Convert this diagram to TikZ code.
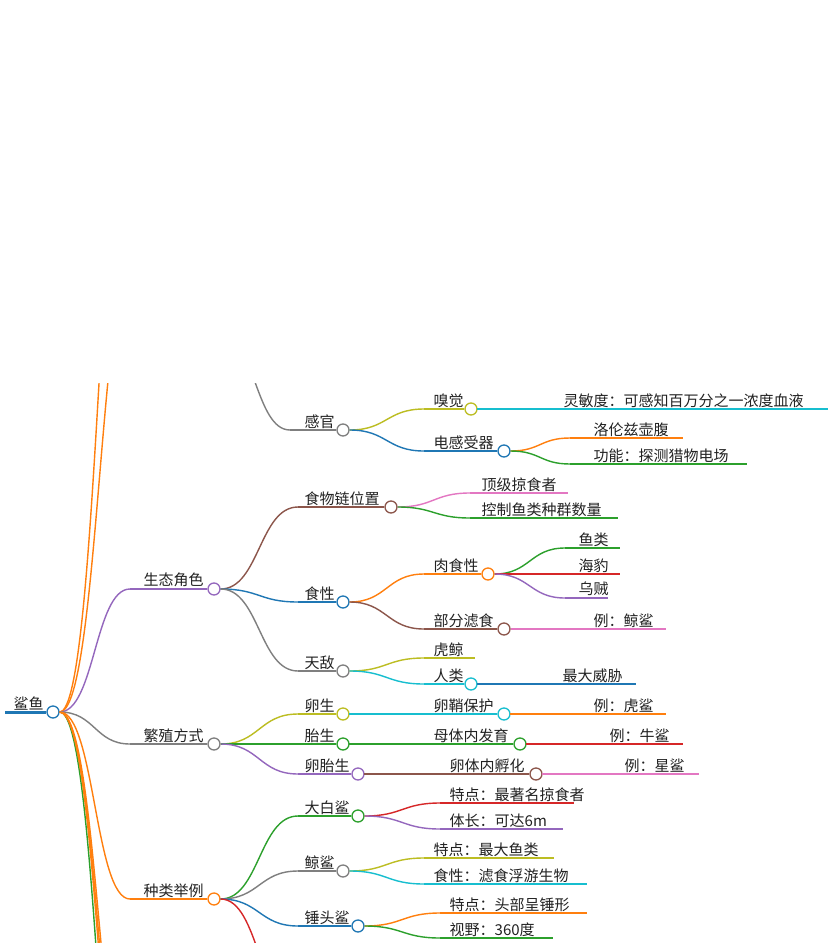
\documentclass[tikz,border=0pt]{standalone}
\usepackage{fontspec}
\setmainfont{Noto Sans CJK SC}
\usetikzlibrary{calc}
\definecolor{cpu}{HTML}{9467BD}\definecolor{cgr}{HTML}{7F7F7F}\definecolor{cor}{HTML}{FF7F0E}
\definecolor{cbl}{HTML}{1F77B4}\definecolor{cgn}{HTML}{2CA02C}\definecolor{crd}{HTML}{D62728}
\definecolor{cbr}{HTML}{8C564B}\definecolor{cpk}{HTML}{E377C2}\definecolor{col}{HTML}{BCBD22}
\definecolor{ccy}{HTML}{17BECF}\definecolor{ctx}{HTML}{222222}
\tikzset{edge/.style={line width=1.4pt},
 dot/.style={circle,draw,fill=white,inner sep=0pt,minimum size=12pt,line width=1.3pt},
 lbl/.style={anchor=south west,inner sep=1.5pt,text=ctx,font=\fontsize{15}{16}\selectfont}}
\newcommand\br[3]{\draw[edge,#1] let \p1=(#2),\p2=(#3) in (\p1) .. controls ({(\x1+\x2)/2},\y1) and ({(\x1+\x2)/2},\y2) .. (\p2);}
\newcommand\bn[7]{\coordinate (#1-s) at (#2,#4); \node[dot,draw=#5] (#1) at (#3,#4) {};
 \draw[edge,#5] (#1-s) -- (#1.west); \node[lbl] at (#7,#4) {#6};}
\newcommand\lf[7]{\coordinate (#1-s) at (#2,#4); \coordinate (#1-e) at (#3,#4);
 \draw[edge,#5] (#1-s) -- (#1-e); \node[lbl] at (#7,#4) {#6};}
\begin{document}
\begin{tikzpicture}[x=1pt,y=-1pt]
\useasboundingbox (0,0) rectangle (832,943);
\fill[white] (0,0) rectangle (832,943);
\clip (0,383) rectangle (832,943);
\coordinate (r-s) at (5,712);
\node[dot,draw=cbl] (r) at (53,712) {};
\draw[cbl,line width=3pt] (r-s) -- (r.west);
\node[lbl] at (12,712) {鲨鱼};
\coordinate (u1) at (140,27); \coordinate (u2) at (140,235);
\br{cor}{r.east}{u1} \br{cor}{r.east}{u2}
\coordinate (d1) at (140,1290); \coordinate (d2) at (140,1214);
\coordinate (d3) at (140,1183); \coordinate (d4) at (140,1148);
\br{cgn}{r.east}{d1} \br{cor}{r.east}{d2} \br{cor}{r.east}{d3} \br{cor}{r.east}{d4}
\node[dot,draw=cgr] (phys) at (214,336) {};
\bn{eco}{130}{214}{589}{cpu}{生态角色}{142} \br{cpu}{r.east}{eco-s}
\bn{rep}{130}{214}{744}{cgr}{繁殖方式}{142} \br{cgr}{r.east}{rep-s}
\bn{spe}{130}{214}{899}{cor}{种类举例}{142} \br{cor}{r.east}{spe-s}
\bn{sen}{290}{343}{430}{cgr}{感官}{303} \br{cgr}{phys.east}{sen-s}
\bn{sme}{424}{471}{409}{col}{嗅觉}{432} \br{col}{sen.east}{sme-s}
\bn{ele}{424}{504}{451}{cbl}{电感受器}{432} \br{cbl}{sen.east}{ele-s}
\lf{l1}{477}{828}{409}{ccy}{灵敏度：可感知百万分之一浓度血液}{562} \draw[edge,ccy] (sme.east) -- (l1-s);
\lf{l2}{570}{683}{438}{cor}{洛伦兹壶腹}{592} \br{cor}{ele.east}{l2-s}
\lf{l3}{570}{747}{464}{cgn}{功能：探测猎物电场}{592} \br{cgn}{ele.east}{l3-s}
\bn{fc}{298}{391}{507}{cbr}{食物链位置}{303} \br{cbr}{eco.east}{fc-s}
\lf{l4}{470}{568}{493}{cpk}{顶级掠食者}{480} \br{cpk}{fc.east}{l4-s}
\lf{l5}{470}{618}{518}{cgn}{控制鱼类种群数量}{480} \br{cgn}{fc.east}{l5-s}
\bn{diet}{298}{343}{602}{cbl}{食性}{303} \br{cbl}{eco.east}{diet-s}
\bn{meat}{424}{488}{574}{cor}{肉食性}{432} \br{cor}{diet.east}{meat-s}
\bn{filt}{424}{504}{629}{cbr}{部分滤食}{432} \br{cbr}{diet.east}{filt-s}
\lf{l6}{565}{620}{548}{cgn}{鱼类}{577} \br{cgn}{meat.east}{l6-s}
\lf{l7}{565}{620}{574}{crd}{海豹}{577} \br{crd}{meat.east}{l7-s}
\lf{l8}{565}{608}{598}{cpu}{乌贼}{577} \br{cpu}{meat.east}{l8-s}
\lf{l9}{511}{666}{629}{cpk}{例：鲸鲨}{592} \draw[edge,cpk] (filt.east) -- (l9-s);
\bn{ene}{298}{343}{671}{cgr}{天敌}{303} \br{cgr}{eco.east}{ene-s}
\lf{l10}{424}{475}{658}{col}{虎鲸}{432} \br{col}{ene.east}{l10-s}
\bn{hum}{424}{471}{684}{ccy}{人类}{432} \br{ccy}{ene.east}{hum-s}
\lf{l11}{477}{636}{684}{cbl}{最大威胁}{561} \draw[edge,cbl] (hum.east) -- (l11-s);
\bn{egg}{298}{343}{714}{col}{卵生}{303} \br{col}{rep.east}{egg-s}
\bn{egg2}{349}{504}{714}{ccy}{卵鞘保护}{432} \draw[edge,ccy] (egg.east) -- (egg2-s);
\lf{l12}{510}{666}{714}{cor}{例：虎鲨}{592} \draw[edge,cor] (egg2.east) -- (l12-s);
\bn{viv}{298}{343}{744}{cgn}{胎生}{303} \br{cgn}{rep.east}{viv-s}
\bn{viv2}{349}{520}{744}{cgn}{母体内发育}{432} \draw[edge,cgn] (viv.east) -- (viv2-s);
\lf{l13}{526}{683}{744}{crd}{例：牛鲨}{608} \draw[edge,crd] (viv2.east) -- (l13-s);
\bn{ovo}{298}{358}{774}{cpu}{卵胎生}{303} \br{cpu}{rep.east}{ovo-s}
\bn{ovo2}{364}{536}{774}{cbr}{卵体内孵化}{448} \draw[edge,cbr] (ovo.east) -- (ovo2-s);
\lf{l14}{542}{699}{774}{cpk}{例：星鲨}{623} \draw[edge,cpk] (ovo2.east) -- (l14-s);
\bn{gw}{298}{358}{816}{cgn}{大白鲨}{303} \br{cgn}{spe.east}{gw-s}
\lf{l15}{440}{574}{803}{crd}{特点：最著名掠食者}{448} \br{crd}{gw.east}{l15-s}
\lf{l16}{440}{563}{829}{cpu}{体长：可达6m}{448} \br{cpu}{gw.east}{l16-s}
\bn{ws}{298}{343}{871}{cgr}{鲸鲨}{303} \br{cgr}{spe.east}{ws-s}
\lf{l17}{424}{554}{858}{col}{特点：最大鱼类}{432} \br{col}{ws.east}{l17-s}
\lf{l18}{424}{587}{884}{ccy}{食性：滤食浮游生物}{432} \br{ccy}{ws.east}{l18-s}
\bn{hh}{298}{358}{926}{cbl}{锤头鲨}{303} \br{cbl}{spe.east}{hh-s}
\lf{l19}{440}{587}{913}{cor}{特点：头部呈锤形}{448} \br{cor}{hh.east}{l19-s}
\lf{l20}{440}{553}{938}{cgn}{视野：360度}{448} \br{cgn}{hh.east}{l20-s}
\coordinate (nx) at (298,1010); \br{crd}{spe.east}{nx}
\end{tikzpicture}
\end{document}
